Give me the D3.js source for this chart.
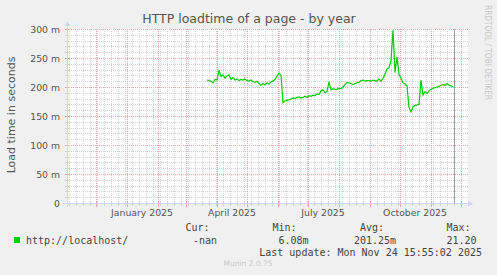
<!DOCTYPE html>
<html>
<head>
<meta charset="utf-8">
<script src="https://cdnjs.cloudflare.com/ajax/libs/d3/7.8.5/d3.min.js"></script>
<style>
body { margin: 0; background: #f0f0f0; }
svg { display: block; }
text { font-family: "DejaVu Sans", sans-serif; fill: #555; }
.mono { font-family: "DejaVu Sans Mono", monospace; font-size: 10px; fill: #444; }
</style>
</head>
<body>
<div id="chart"></div>
<script>
// chart data
const title = "HTTP loadtime of a page - by year";
const yLabel = "Load time in seconds";
const yTickValues = [0, 50, 100, 150, 200, 250, 300];
const yTickLabels = ["0", "50 m", "100 m", "150 m", "200 m", "250 m", "300 m"];
const xLabelDates = ["2025-01-16", "2025-04-16", "2025-07-16", "2025-10-16"];
const xLabelTexts = ["January 2025", "April 2025", "July 2025", "October 2025"];
const seriesName = "http://localhost/";
const seriesStart = "2025-03-22";   // one value every 2 days
const stepDays = 2;
// load time in ms
const loadtime = [
  212,211,210,207,213,212,229,218,221,215,
  219,221,213,216,212,214,211,213,212,214,
  211,210,212,209,208,210,206,203,206,204,
  207,205,209,210,213,219,224,220,173,176,
  177,178,179,181,180,182,183,181,182,184,
  182,185,184,186,185,188,187,193,195,190,
  192,209,195,197,196,196,198,197,200,204,
  208,207,206,204,206,207,208,211,212,210,
  211,211,210,212,211,210,214,210,215,222,
  231,233,246,298,225,252,222,215,207,205,
  202,165,157,166,168,169,170,212,186,192,
  189,193,196,198,199,200,201,203,204,203,
  206,203,202,200
];
const nowDate = "2025-11-24";
const statLabels = ["Cur:", "Min:", "Avg:", "Max:"];
const statValues = ["-nan", "6.08m", "201.25m", "21.20"];
const lastUpdate = "Last update: Mon Nov 24 15:55:02 2025";
const version = "Munin 2.0.75";

const W = 497, H = 275;
const x0 = 67, x1 = 467, yTop = 29, yBot = 203;

const svg = d3.select("#chart").append("svg")
  .attr("width", W).attr("height", H);

svg.append("rect").attr("width", W).attr("height", H).attr("fill", "#f0f0f0");

const x = d3.scaleUtc()
  .domain([new Date(Date.UTC(2024, 10, 2)), new Date(Date.UTC(2025, 11, 7))])
  .range([x0, x1]);
const y = d3.scaleLinear().domain([0, 300]).range([yBot, yTop]);

const px = v => Math.round(v) + 0.5;
const minorCol = "#d2d2d2", majorCol = "#e8a4a4";

// canvas
svg.append("rect")
  .attr("x", x0).attr("y", yTop)
  .attr("width", x1 - x0 + 1).attr("height", yBot - yTop)
  .attr("fill", "#fff");

const grid = svg.append("g");

// horizontal grid every 10 m, red every 50 m
d3.range(0, 301, 10).forEach(function(v) {
  const major = v % 50 === 0;
  grid.append("line")
    .attr("x1", x0).attr("x2", x1 + 1)
    .attr("y1", px(y(v))).attr("y2", px(y(v)))
    .attr("stroke", major ? majorCol : minorCol)
    .attr("stroke-dasharray", "1,1");
  grid.append("line")
    .attr("x1", x0 - 2).attr("x2", x0 + 2)
    .attr("y1", px(y(v))).attr("y2", px(y(v)))
    .attr("stroke", major ? majorCol : minorCol);
});

// vertical grid: weeks gray, months red
const [d0, d1] = x.domain();
d3.utcMonday.range(d0, d1).forEach(function(d) {
  grid.append("line")
    .attr("x1", px(x(d))).attr("x2", px(x(d)))
    .attr("y1", yTop).attr("y2", yBot)
    .attr("stroke", minorCol)
    .attr("stroke-dasharray", "1,1");
  grid.append("line")
    .attr("x1", px(x(d))).attr("x2", px(x(d)))
    .attr("y1", yBot - 1).attr("y2", yBot + 3)
    .attr("stroke", minorCol);
});
d3.utcMonth.range(d0, d1).forEach(function(d) {
  grid.append("line")
    .attr("x1", px(x(d))).attr("x2", px(x(d)))
    .attr("y1", yTop).attr("y2", yBot)
    .attr("stroke", majorCol)
    .attr("stroke-dasharray", "1,1");
  grid.append("line")
    .attr("x1", px(x(d))).attr("x2", px(x(d)))
    .attr("y1", yBot - 2).attr("y2", yBot + 4)
    .attr("stroke", majorCol);
});

// data line
const start = new Date(seriesStart + "T00:00:00Z");
const pts = loadtime.map((v, i) => [d3.utcDay.offset(start, i * stepDays), v]);
svg.append("path")
  .datum(pts)
  .attr("fill", "none")
  .attr("stroke", "#00cc00")
  .attr("stroke-width", 1.2)
  .attr("d", d3.line().x(d => x(d[0])).y(d => y(d[1])));

// now line
const nowX = px(x(new Date(nowDate + "T00:00:00Z")));
svg.append("line")
  .attr("x1", nowX).attr("x2", nowX)
  .attr("y1", yTop).attr("y2", yBot)
  .attr("stroke", "#999");

// axes
const axisCol = "#cfd6f8";
svg.append("line")
  .attr("x1", 63).attr("x2", 469)
  .attr("y1", px(yBot)).attr("y2", px(yBot))
  .attr("stroke", axisCol);
svg.append("line")
  .attr("x1", px(x0)).attr("x2", px(x0))
  .attr("y1", yBot + 4).attr("y2", 25)
  .attr("stroke", axisCol);
svg.append("path")
  .attr("d", "M468,200.5 L473,203.5 L468,206.5 Z")
  .attr("fill", axisCol);
svg.append("path")
  .attr("d", "M64.5,26 L67.5,21 L70.5,26 Z")
  .attr("fill", axisCol);

// y tick labels
svg.selectAll(".ylab")
  .data(yTickValues)
  .enter().append("text")
    .attr("class", "ylab")
    .attr("x", 60)
    .attr("y", d => y(d) + 3.5)
    .attr("text-anchor", "end")
    .style("font-size", "9.3px")
    .text((d, i) => yTickLabels[i]);

// x tick labels
svg.selectAll(".xlab")
  .data(xLabelDates)
  .enter().append("text")
    .attr("class", "xlab")
    .attr("x", d => x(new Date(d + "T00:00:00Z")))
    .attr("y", 216)
    .attr("text-anchor", "middle")
    .style("font-size", "9.3px")
    .text((d, i) => xLabelTexts[i]);

// title
svg.append("text")
  .attr("x", 249).attr("y", 23)
  .attr("text-anchor", "middle")
  .style("font-size", "12.5px")
  .text(title);

// y axis label
svg.append("text")
  .attr("transform", "translate(15,115) rotate(-90)")
  .attr("text-anchor", "middle")
  .style("font-size", "11px")
  .text(yLabel);

// watermark
svg.append("text")
  .attr("transform", "translate(485,5) rotate(90)")
  .attr("textLength", 95)
  .attr("lengthAdjust", "spacingAndGlyphs")
  .style("font-size", "8px")
  .style("fill", "#c8c8c8")
  .text("RRDTOOL / TOBI OETIKER");

// legend
svg.append("rect")
  .attr("x", 14).attr("y", 237)
  .attr("width", 6).attr("height", 6)
  .attr("fill", "#00cc00");
svg.append("text").attr("class", "mono")
  .attr("x", 26).attr("y", 244).text(seriesName);

const statHeadX = [185.5, 272.5, 360, 446.5];
const statValX = [193, 278.5, 354, 446.5];
statLabels.forEach(function(s, i) {
  svg.append("text").attr("class", "mono")
    .attr("x", statHeadX[i]).attr("y", 231).text(s);
  svg.append("text").attr("class", "mono")
    .attr("x", statValX[i]).attr("y", 244).text(statValues[i]);
});
svg.append("text").attr("class", "mono")
  .attr("x", 482).attr("y", 256)
  .attr("text-anchor", "end")
  .text(lastUpdate);

svg.append("text")
  .attr("x", 248).attr("y", 266)
  .attr("text-anchor", "middle")
  .style("font-size", "7.5px")
  .style("fill", "#c8c8c8")
  .text(version);
</script>
</body>
</html>
